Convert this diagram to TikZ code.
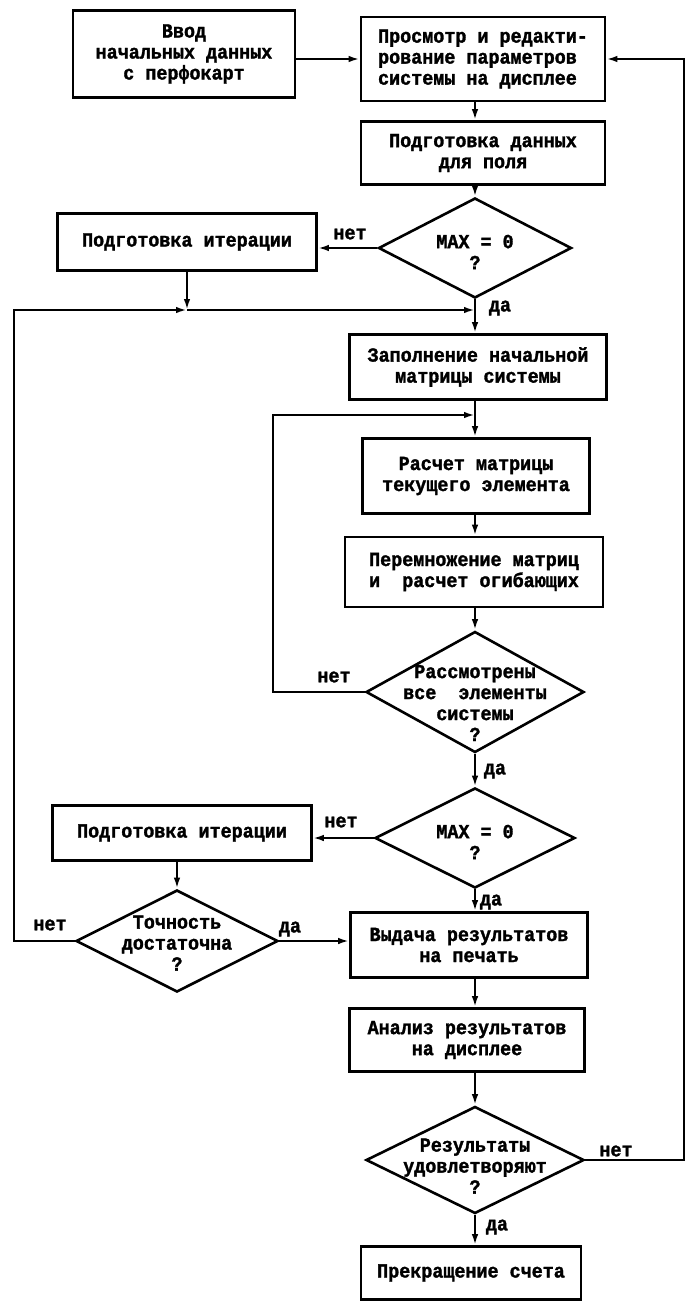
\documentclass[tikz,border=0pt]{standalone}
\usepackage{fontspec}
\newfontfamily\tw{Liberation Mono}[FakeStretch=0.92,BoldFeatures={FakeBold=1.5}]
\usetikzlibrary{shapes.geometric,arrows.meta}
\begin{document}
\begin{tikzpicture}[x=1pt,y=-1pt,
  every node/.style={font=\tw\bfseries\fontsize{20}{21}\selectfont},
  sz/.style 2 args={minimum width=#1pt,minimum height=#2pt},
  box/.style={draw,line width=2.6pt,inner sep=0pt,align=center},
  dia/.style={draw,diamond,line width=2.6pt,inner sep=0pt},
  txt/.style={align=center,inner sep=0pt},
  lbl/.style={inner sep=0pt},
  arr/.style={draw,line width=2.2pt,-{Latex[length=11pt,width=6.5pt]}}]
\useasboundingbox (0,0) rectangle (690,1302);
% coordinates
\coordinate (col) at (475,0);
\coordinate (j1) at (475,310);
\coordinate (j2) at (475,415);
\coordinate (ll) at (14,0);
\coordinate (l2) at (273,0);
\coordinate (rr) at (684,0);
% nodes
\node[box,sz={222}{87}] (box1) at (184,54) {Ввод\\начальных данных\\с перфокарт};
\node[box,sz={244}{84},align=left] (box2) at (483,59) {Просмотр и редакти-\\рование параметров\\системы на дисплее};
\node[box,sz={244}{63}] (box3) at (483,153) {Подготовка данных\\для поля};
\node[dia,sz={193}{100}] (dia1) at (475,248) {};
\node[txt] (dia1t) at (475,252) {MAX = 0\\?};
\node[box,sz={259}{57}] (box4) at (187,242) {Подготовка итерации};
\node[box,sz={257}{65}] (box5) at (478,367) {Заполнение начальной\\матрицы системы};
\node[box,sz={227}{75}] (box6) at (476,476) {Расчет матрицы\\текущего элемента};
\node[box,sz={258}{70},align=left] (box7) at (474,572) {Перемножение матриц\\и~~расчет огибающих};
\node[dia,sz={218}{121}] (dia2) at (475,692) {};
\node[txt] (dia2t) at (475,703) {Рассмотрены\\все~~элементы\\системы\\?};
\node[dia,sz={200}{100}] (dia3) at (475,838) {};
\node[txt] (dia3t) at (475,842) {MAX = 0\\?};
\node[box,sz={259}{55}] (box8) at (182,833) {Подготовка итерации};
\node[dia,sz={202}{102}] (dia4) at (177,941) {};
\node[txt] (dia4t) at (177,943) {Точность\\достаточна\\?};
\node[box,sz={237}{65}] (box9) at (469,945) {Выдача результатов\\на печать};
\node[box,sz={235}{63}] (box10) at (467,1040) {Анализ результатов\\на дисплее};
\node[dia,sz={218}{107}] (dia5) at (475,1160) {};
\node[txt] (dia5t) at (475,1166) {Результаты\\удовлетворяют\\?};
\node[box,sz={220}{53}] (box11) at (471,1273) {Прекращение счета};
% labels
\node[lbl] (l1) at (350,234) {нет};
\node[lbl] (l2t) at (500,308) {да};
\node[lbl] (l3) at (334,677) {нет};
\node[lbl] (l4) at (495,771) {да};
\node[lbl] (l5) at (341,822) {нет};
\node[lbl] (l6) at (491,902) {да};
\node[lbl] (l7) at (50,925) {нет};
\node[lbl] (l8) at (290,929) {да};
\node[lbl] (l9) at (616,1151) {нет};
\node[lbl] (l10) at (497,1227) {да};
% connectors
\draw[arr] (box1.east |- box2.west) -- (box2.west);
\draw[arr] (dia5.east) -- (dia5.east -| rr) -- (rr |- box2.east) -- (box2.east);
\draw[arr] (box2.south -| col) -- (box3.north -| col);
\draw[arr] (box3.south -| col) -- (dia1.north);
\draw[arr] (dia1.west) -- (dia1.west -| box4.east);
\draw[arr] (box4.south) -- (box4.south |- j1);
\draw[arr] (dia4.west) -- (dia4.west -| ll) -- (ll |- j1) -- (box4.south |- j1);
\draw[arr] (box4.south |- j1) -- (j1);
\draw[arr] (dia1.south) -- (box5.north -| col);
\draw[arr] (box5.south -| col) -- (box6.north -| col);
\draw[arr] (dia2.west) -- (dia2.west -| l2) -- (l2 |- j2) -- (j2);
\draw[arr] (box6.south -| col) -- (box7.north -| col);
\draw[arr] (box7.south -| col) -- (dia2.north);
\draw[arr] (dia2.south) -- (dia3.north);
\draw[arr] (dia3.west) -- (dia3.west -| box8.east);
\draw[arr] (box8.south -| dia4.north) -- (dia4.north);
\draw[arr] (dia4.east) -- (dia4.east -| box9.west);
\draw[arr] (dia3.south) -- (box9.north -| col);
\draw[arr] (box9.south -| col) -- (box10.north -| col);
\draw[arr] (box10.south -| col) -- (dia5.north);
\draw[arr] (dia5.south) -- (box11.north -| col);
\end{tikzpicture}
\end{document}
